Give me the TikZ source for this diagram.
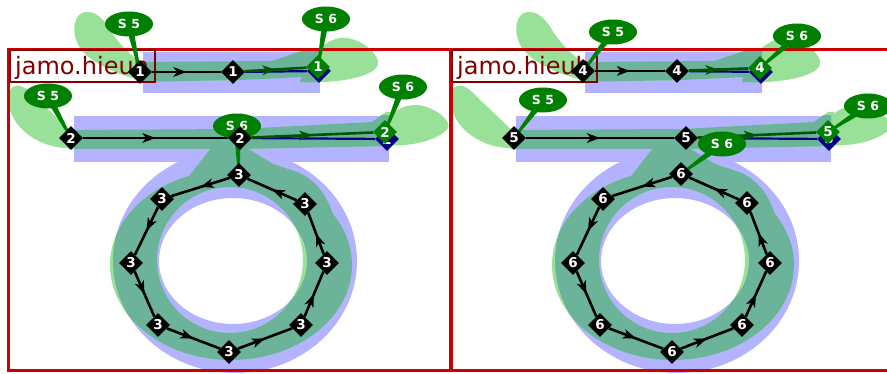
\documentclass[tikz,border=0pt]{standalone}
\usepackage{fontspec}
\newfontfamily\djs{DejaVu Sans}
\usetikzlibrary{shapes.geometric,arrows.meta,decorations.markings,calc}
\definecolor{lav}{RGB}{179,179,255}
\definecolor{lgreen}{RGB}{153,225,153}
\definecolor{tealmix}{RGB}{107,179,153}
\definecolor{gnode}{RGB}{0,128,0}
\definecolor{dgreen}{RGB}{0,85,0}
\definecolor{navyc}{RGB}{0,0,128}
\definecolor{framered}{RGB}{204,0,0}
\definecolor{labred}{RGB}{128,0,0}
\pgfdeclarelayer{shapes}
\pgfdeclarelayer{lines}
\pgfdeclarelayer{callouts}
\pgfsetlayers{shapes,lines,callouts,main}

\newcommand\GreenGlyph[1]{%
 \fill[#1] (138,62) -- (272,61) -- (308,49) -- (324,49) -- (324,76) -- (240,80) -- (138,82) -- cycle;
 \fill[#1] (68,130) -- (240,129) -- (372,122) -- (386,112) -- (392,112) -- (392,146) -- (240,149) -- (68,149) -- cycle;
 \fill[#1] (140,80) .. controls (115,74) and (90,62) .. (80,48) .. controls (72,36) and (72,18) .. (82,13) .. controls (92,9) and (102,16) .. (110,30) .. controls (120,46) and (134,58) .. (148,68) -- cycle;
 \fill[#1] (300,82) .. controls (305,60) and (320,42) .. (340,38) .. controls (360,36) and (380,55) .. (378,64) .. controls (376,76) and (340,84) .. (300,82) -- cycle;
 \fill[#1] (74,148) .. controls (40,150) and (10,128) .. (8,100) .. controls (7,86) and (18,80) .. (30,92) .. controls (46,108) and (64,124) .. (78,138) -- cycle;
 \fill[#1] (376,143) .. controls (378,120) and (398,104) .. (418,105) .. controls (436,107) and (452,122) .. (448,128) .. controls (440,140) and (405,150) .. (376,143) -- cycle;
 \fill[#1] (186,180) -- (212,147) -- (245,147) -- (273,164) -- (300,173) .. controls (318,182) and (328,198) .. (333,215) -- (240,183) -- cycle;
 \fill[#1,even odd rule] (231,265) ellipse [x radius=121pt, y radius=95pt] (230,260) ellipse [x radius=73pt, y radius=73pt];
}
\newcommand\BlueA[1]{#1 (143,52) rectangle (320,93);}
\newcommand\BlueB[1]{#1 (74,116) rectangle (389,162);}
\newcommand\BlueRing[1]{#1 (235,261) ellipse [x radius=122pt, y radius=112pt] (233,261) ellipse [x radius=74pt, y radius=63pt];}
\newcommand\Glyph{%
 \BlueA{\fill[lav]}\BlueB{\fill[lav]}\BlueRing{\fill[lav,even odd rule]}%
 \GreenGlyph{lgreen}%
 \begin{scope}\BlueA{\clip}\GreenGlyph{tealmix}\end{scope}%
 \begin{scope}\BlueB{\clip}\GreenGlyph{tealmix}\end{scope}%
 \begin{scope}[even odd rule]\BlueRing{\clip}\GreenGlyph{tealmix}\end{scope}%
}
\newcommand\tail[2]{\fill[gnode] ($(#1)!3.5pt!90:(#2.center)$) -- ($(#2.center)!1pt!-90:(#1)$) -- ($(#2.center)!1pt!90:(#1)$) -- ($(#1)!3.5pt!-90:(#2.center)$) -- cycle;}

\begin{document}
\begin{tikzpicture}[x=1pt,y=-1pt,
 dia/.style={diamond, fill=black, text=white, minimum width=24pt, minimum height=24pt, inner sep=0pt, font=\djs\bfseries\fontsize{13.5}{13.5}\selectfont},
 gdia/.style={dia, fill=gnode},
 ndia/.style={dia, fill=navyc},
 callout/.style={ellipse, fill=gnode, text=white, minimum width=48pt, minimum height=25pt, inner sep=0pt, font=\djs\bfseries\fontsize{12.5}{12.5}\selectfont},
 midarrow/.style={postaction={decorate}, decoration={markings, mark=at position 0.5 with {\arrow{Stealth[length=13pt,width=9.5pt,inset=3.5pt]}}}},
 blk/.style={draw=black, line width=2.6pt, midarrow},
 dg/.style={draw=dgreen, color=dgreen, line width=2.6pt, midarrow},
 nv/.style={draw=navyc, line width=2.2pt},
 framebox/.style={draw=framered, line width=3pt},
 labbox/.style={draw=labred, line width=2pt},
 labtext/.style={anchor=base west, text=labred, inner sep=0pt, font=\djs\fontsize{24}{24}\selectfont}]
\useasboundingbox (0,0) rectangle (887,374);

\begin{pgfonlayer}{shapes}
 \fill[white] (0,0) rectangle (887,374);
 \Glyph
 \begin{scope}[shift={(442,0)}]\Glyph\end{scope}
 \draw[framebox] (8,50) rectangle (451,370);
 \draw[framebox] (450,50) rectangle (893,370);
 \draw[labbox] (10,50) rectangle (155,82);
 \draw[labbox] (452,50) rectangle (597,82);
 \node[labtext] (lab1) at (15,75) {jamo.hieuh};
 \node[labtext] (lab2) at (457,75) {jamo.hieuh};
\end{pgfonlayer}

% left panel nodes
\node[dia] (a1) at (140,72) {1};
\node[dia] (a2) at (233,72) {1};
\node[ndia] (a4) at (319,71) {1};
\node[gdia] (a3) at (318,67) {1};
\node[dia] (b1) at (71,138) {2};
\node[dia] (b2) at (240,138) {2};
\node[ndia] (b4) at (387,139) {2};
\node[gdia] (b3) at (385,132) {2};
\foreach \n/\x/\y in {1/239/175, 2/162/199, 3/131/263, 4/158/325, 5/229/352, 6/301/325, 7/327/263, 8/305/204}
  \node[dia] (r\n) at (\x,\y) {3};
% right panel nodes
\node[dia] (c1) at (583,71) {4};
\node[dia] (c2) at (677,71) {4};
\node[ndia] (c4) at (761,72) {4};
\node[gdia] (c3) at (760,68) {4};
\node[dia] (d1) at (514,138) {5};
\node[dia] (d2) at (686,138) {5};
\node[ndia] (d4) at (829,139) {5};
\node[gdia] (d3) at (828,132) {5};
\foreach \n/\x/\y in {1/681/174, 2/603/199, 3/573/263, 4/600/325, 5/672/352, 6/742/325, 7/770/263, 8/747/203}
  \node[dia] (s\n) at (\x,\y) {6};

\begin{pgfonlayer}{lines}
 \draw[blk] (a1) -- (a2);
 \draw[nv] (a2) -- (a4);
 \draw[dg] (a2) -- (a3);
 \draw[blk] (b1) -- (b2);
 \draw[nv] (b2) -- (b4);
 \draw[dg] (b2) -- (b3);
 \foreach \a/\b in {1/2,2/3,3/4,4/5,5/6,6/7,7/8,8/1} \draw[blk] (r\a) -- (r\b);
 \draw[blk] (c1) -- (c2);
 \draw[nv] (c2) -- (c4);
 \draw[dg] (c2) -- (c3);
 \draw[blk] (d1) -- (d2);
 \draw[nv] (d2) -- (d4);
 \draw[dg] (d2) -- (d3);
 \foreach \a/\b in {1/2,2/3,3/4,4/5,5/6,6/7,7/8,8/1} \draw[blk] (s\a) -- (s\b);
\end{pgfonlayer}

\begin{pgfonlayer}{callouts}
 \coordinate (k1) at (129,24);
 \coordinate (k2) at (326,19);
 \coordinate (k3) at (48,96);
 \coordinate (k4) at (403,87);
 \coordinate (k5) at (237,126);
 \coordinate (m1) at (613,32);
 \coordinate (m2) at (797,36);
 \coordinate (m3) at (543,100);
 \coordinate (m4) at (868,106);
 \coordinate (m5) at (722,144);
 \tail{k1}{a1}\tail{k2}{a3}\tail{k3}{b1}\tail{k4}{b3}\tail{k5}{r1}
 \tail{m1}{c1}\tail{m2}{c3}\tail{m3}{d1}\tail{m4}{d3}\tail{m5}{s1}
 \node[callout] (K1) at (k1) {S 5};
 \node[callout] (K2) at (k2) {S 6};
 \node[callout] (K3) at (k3) {S 5};
 \node[callout] (K4) at (k4) {S 6};
 \node[callout] (K5) at (k5) {S 6};
 \node[callout] (M1) at (m1) {S 5};
 \node[callout] (M2) at (m2) {S 6};
 \node[callout] (M3) at (m3) {S 5};
 \node[callout] (M4) at (m4) {S 6};
 \node[callout] (M5) at (m5) {S 6};
\end{pgfonlayer}
\end{tikzpicture}
\end{document}
